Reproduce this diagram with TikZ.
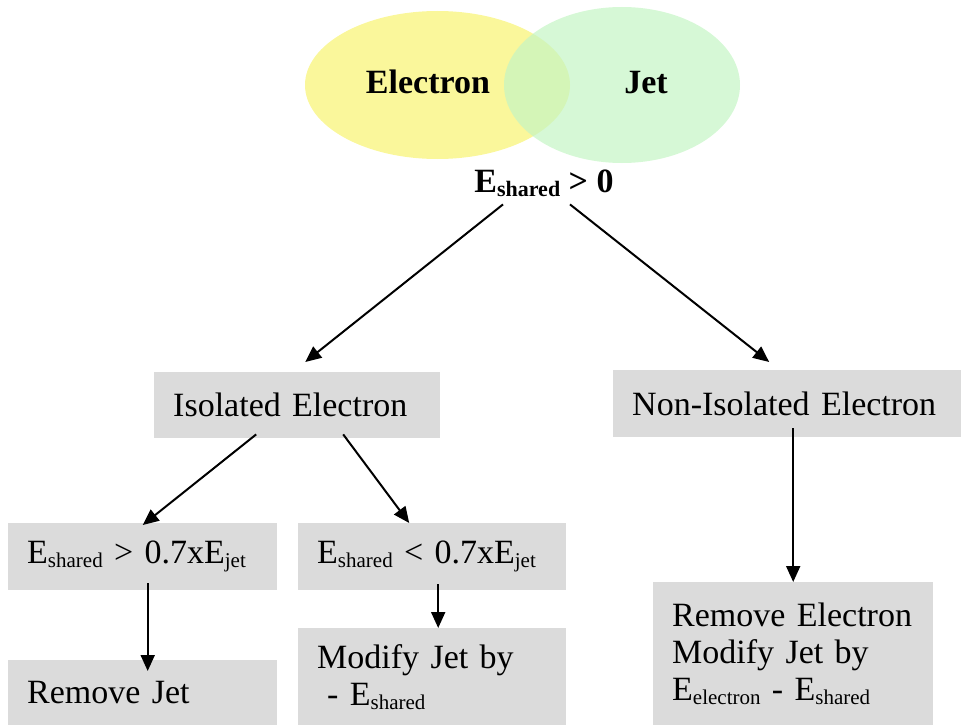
\documentclass[tikz,border=0pt]{standalone}
\usepackage{fontspec}
\setmainfont{Liberation Serif}
\usetikzlibrary{shapes.geometric,arrows.meta}

\definecolor{elecfill}{RGB}{250,247,155}
\definecolor{jetfill}{RGB}{196,245,196}
\definecolor{boxfill}{RGB}{219,219,219}

% lowered subscript in a given size
\newcommand\lowsub[2]{\raisebox{-4pt}{\fontsize{#1}{#1}\selectfont #2}}

\tikzset{
  blob/.style={ellipse, inner sep=0pt},
  txt/.style={font=\fontsize{34}{38}\selectfont, inner sep=0pt},
  btxt/.style={font=\fontsize{34}{38}\selectfont\bfseries, inner sep=0pt},
  stepbox/.style={rectangle, fill=boxfill, anchor=north west, inner xsep=19pt,
    inner ysep=0pt, align=left, font=\fontsize{34}{37}\selectfont},
  arr/.style={line width=2pt, -{Triangle[length=16pt,width=14pt]}}
}

\begin{document}
\begin{tikzpicture}[x=1pt,y=-1pt]
\useasboundingbox (0,0) rectangle (961,725);

% overlapping sets
\node[blob, fill=elecfill, minimum width=265pt, minimum height=148pt] (elec) at (437.5,85) {};
\node[blob, fill=jetfill, fill opacity=0.7, minimum width=236pt, minimum height=156pt] (jet) at (622,85) {};
\node[btxt, anchor=base] (electxt) at (428,93) {Electron};
\node[btxt, anchor=base] (jettxt) at (646,93) {Jet};
\node[btxt, anchor=base] (cond) at (544,192) {E\lowsub{22}{shared} > 0};

% decision boxes
\node[stepbox, text width=248pt, minimum height=66pt] (iso) at (154,372) {Isolated Electron};
\node[stepbox, text width=310pt, minimum height=67pt] (noniso) at (613,370) {Non-Isolated Electron};
\node[stepbox, text width=231pt, minimum height=67pt] (big) at (8,523)
  {E\lowsub{21}{shared} > 0.7xE\lowsub{21}{jet}};
\node[stepbox, text width=230pt, minimum height=67pt] (small) at (298,523)
  {E\lowsub{21}{shared} < 0.7xE\lowsub{21}{jet}};
\node[stepbox, text width=231pt, minimum height=65pt] (rmjet) at (8,660) {Remove Jet};
\node[stepbox, text width=230pt, minimum height=97pt] (modjet) at (298,628)
  {Modify Jet by\\\hspace{10pt}- E\lowsub{21}{shared}};
\node[stepbox, text width=242pt, minimum height=143pt] (rmel) at (653,582)
  {Remove Electron\\Modify Jet by\\E\lowsub{21}{electron} - E\lowsub{21}{shared}};

% connectors
\draw[arr] ([xshift=-41pt,yshift=-8pt]cond.south) -- ([xshift=8pt,yshift=10pt]iso.north);
\draw[arr] ([xshift=26pt,yshift=-8pt]cond.south) -- ([xshift=-18pt,yshift=8pt]noniso.north);
\draw[arr] ([xshift=-41pt,yshift=4pt]iso.south) -- ([xshift=0pt,yshift=-2pt]big.north);
\draw[arr] ([xshift=46pt,yshift=4pt]iso.south) -- ([xshift=-23pt,yshift=0pt]small.north);
\draw[arr] ([xshift=5pt,yshift=7pt]big.south) -- ([xshift=5pt,yshift=-11pt]rmjet.north);
\draw[arr] ([xshift=6pt,yshift=6pt]small.south) -- ([xshift=6pt,yshift=0pt]modjet.north);
\draw[arr] ([xshift=6pt,yshift=9pt]noniso.south) -- ([xshift=0pt,yshift=0pt]rmel.north);
\end{tikzpicture}
\end{document}
